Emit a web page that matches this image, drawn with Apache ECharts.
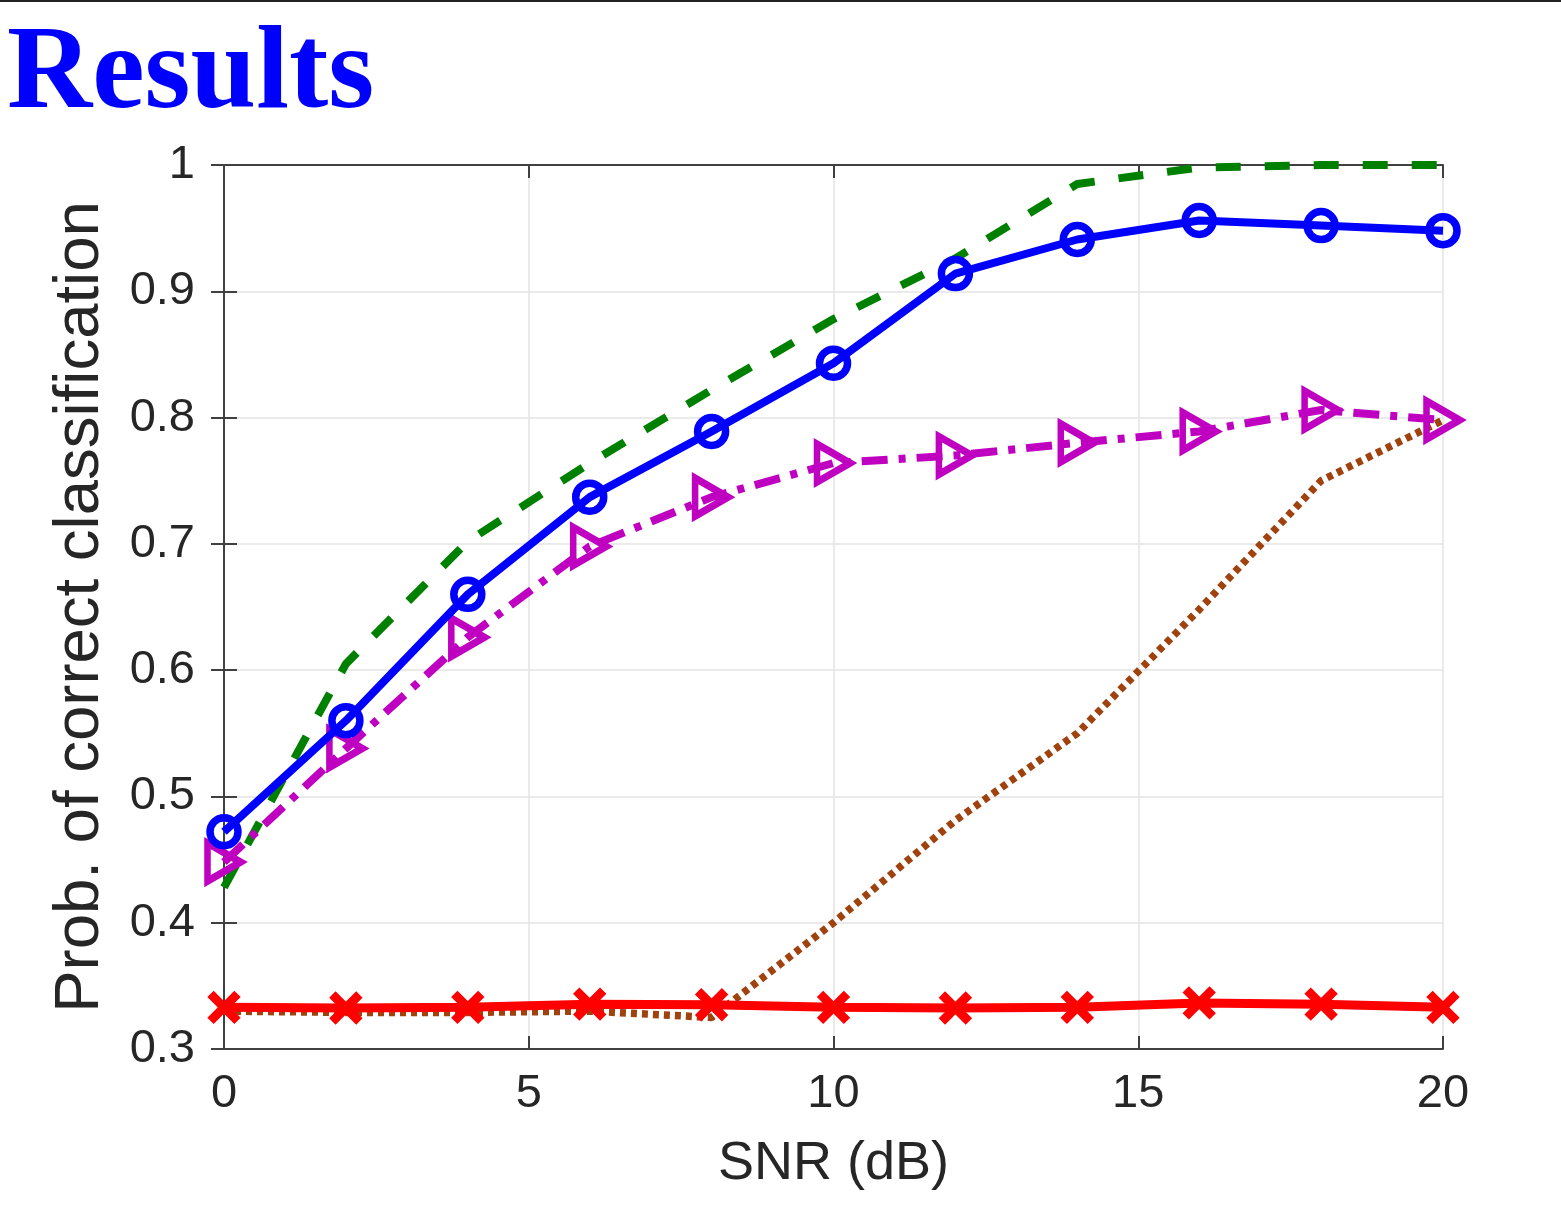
<!DOCTYPE html>
<html>
<head>
<meta charset="utf-8">
<script src="https://cdn.jsdelivr.net/npm/echarts@6/dist/echarts.min.js"></script>
<style>
html,body{margin:0;padding:0;background:#fff;}
#chart{width:1561px;height:1210px;}
</style>
</head>
<body>
<div id="chart"></div>
<script>
const snr = [0, 2, 4, 6, 8, 10, 12, 14, 16, 18, 20];
const greenDashed = [0.428, 0.605, 0.702, 0.764, 0.822, 0.878, 0.926, 0.985, 0.998, 1.0, 1.0];
const blueCircle = [0.472, 0.560, 0.660, 0.737, 0.789, 0.843, 0.914, 0.941, 0.956, 0.952, 0.948];
const magentaTri = [0.448, 0.538, 0.626, 0.698, 0.737, 0.764, 0.770, 0.780, 0.789, 0.806, 0.798];
const brownDotted = [0.330, 0.329, 0.329, 0.330, 0.325, 0.400, 0.481, 0.550, 0.648, 0.750, 0.798];
const redCross = [0.333, 0.3325, 0.333, 0.3355, 0.335, 0.333, 0.3325, 0.333, 0.3365, 0.3355, 0.333];
const xTicks = [0, 5, 10, 15, 20];
const yTicks = [0.3, 0.4, 0.5, 0.6, 0.7, 0.8, 0.9, 1];

const pair = arr => snr.map((x, i) => [x, arr[i]]);
const axisColor = '#404040';
const textColor = '#262626';
const font = 'Liberation Sans, Arial, sans-serif';

const chart = echarts.init(document.getElementById('chart'));
const baseLine = { lineStyle: { color: axisColor, width: 2 } };
chart.setOption({
  animation: false,
  backgroundColor: '#fff',
  grid: { left: 224, right: 118, top: 165, bottom: 161, containLabel: false },
  graphic: [
    { type: 'line', shape: { x1: 0, y1: 1, x2: 1561, y2: 1 }, style: { stroke: '#222', lineWidth: 2 } },
    { type: 'text', left: 7, top: 18, style: { text: 'Results', fill: '#0000ff', font: 'bold 118px "Liberation Serif", "Times New Roman", serif' } }
  ],
  xAxis: [
    {
      type: 'value', min: 0, max: 20, interval: 5, position: 'bottom',
      name: 'SNR (dB)', nameLocation: 'middle', nameGap: 88,
      nameTextStyle: { fontSize: 54, color: textColor, fontFamily: font },
      axisLine: baseLine,
      axisTick: { show: true, inside: true, length: 13, lineStyle: { color: axisColor, width: 2 } },
      axisLabel: { fontSize: 47, color: textColor, fontFamily: font, margin: 22, formatter: v => xTicks.includes(v) ? String(v) : '' },
      splitLine: { show: true, lineStyle: { color: '#e3e3e3', width: 1.5 } }
    },
    {
      type: 'value', min: 0, max: 20, interval: 5, position: 'top',
      axisLine: baseLine,
      axisTick: { show: true, inside: true, length: 13, lineStyle: { color: axisColor, width: 2 } },
      axisLabel: { show: false }, splitLine: { show: false }
    }
  ],
  yAxis: [
    {
      type: 'value', min: 0.3, max: 1, interval: 0.1, position: 'left',
      name: 'Prob. of correct classification', nameLocation: 'middle', nameGap: 112,
      nameTextStyle: { fontSize: 63.5, color: textColor, fontFamily: font },
      axisLine: baseLine,
      axisTick: { show: true, inside: true, length: 13, lineStyle: { color: axisColor, width: 2 } },
      axisLabel: {
        fontSize: 47, color: textColor, fontFamily: font, margin: 29,
        formatter: v => { const r = Math.round(v * 10) / 10; return r === 1 ? '1' : r.toFixed(1); }
      },
      splitLine: { show: true, lineStyle: { color: '#e3e3e3', width: 1.5 } }
    },
    {
      type: 'value', min: 0.3, max: 1, interval: 0.1, position: 'right',
      axisLine: baseLine,
      axisTick: { show: true, inside: true, length: 13, lineStyle: { color: axisColor, width: 2 } },
      axisLabel: { show: false }, splitLine: { show: false }
    }
  ],
  series: [
    {
      name: 'green', type: 'line', data: pair(greenDashed), showSymbol: false, symbol: 'none', z: 2,
      lineStyle: { color: '#008000', width: 8, type: [25, 24] }
    },
    {
      name: 'brown', type: 'line', data: pair(brownDotted), showSymbol: false, symbol: 'none', z: 3,
      lineStyle: { color: '#a0420e', width: 7.5, type: [6, 5] }
    },
    {
      name: 'magenta', type: 'line', data: pair(magentaTri), z: 4,
      symbol: 'triangle', symbolRotate: -90, symbolSize: [38, 33],
      itemStyle: { color: 'transparent', borderColor: '#c000c0', borderWidth: 7 },
      lineStyle: { color: '#c000c0', width: 8, type: [26, 11, 7, 11] }
    },
    {
      name: 'blue', type: 'line', data: pair(blueCircle), z: 5,
      symbol: 'circle', symbolSize: 28,
      itemStyle: { color: 'transparent', borderColor: '#0000ff', borderWidth: 7.5 },
      lineStyle: { color: '#0000ff', width: 8 }
    },
    {
      name: 'red', type: 'line', data: pair(redCross), z: 6,
      symbol: 'path://M0,0L10,10M10,0L0,10', symbolSize: 27,
      itemStyle: { color: 'transparent', borderColor: '#ff0000', borderWidth: 9 },
      lineStyle: { color: '#ff0000', width: 9 }
    }
  ]
});
</script>
</body>
</html>
